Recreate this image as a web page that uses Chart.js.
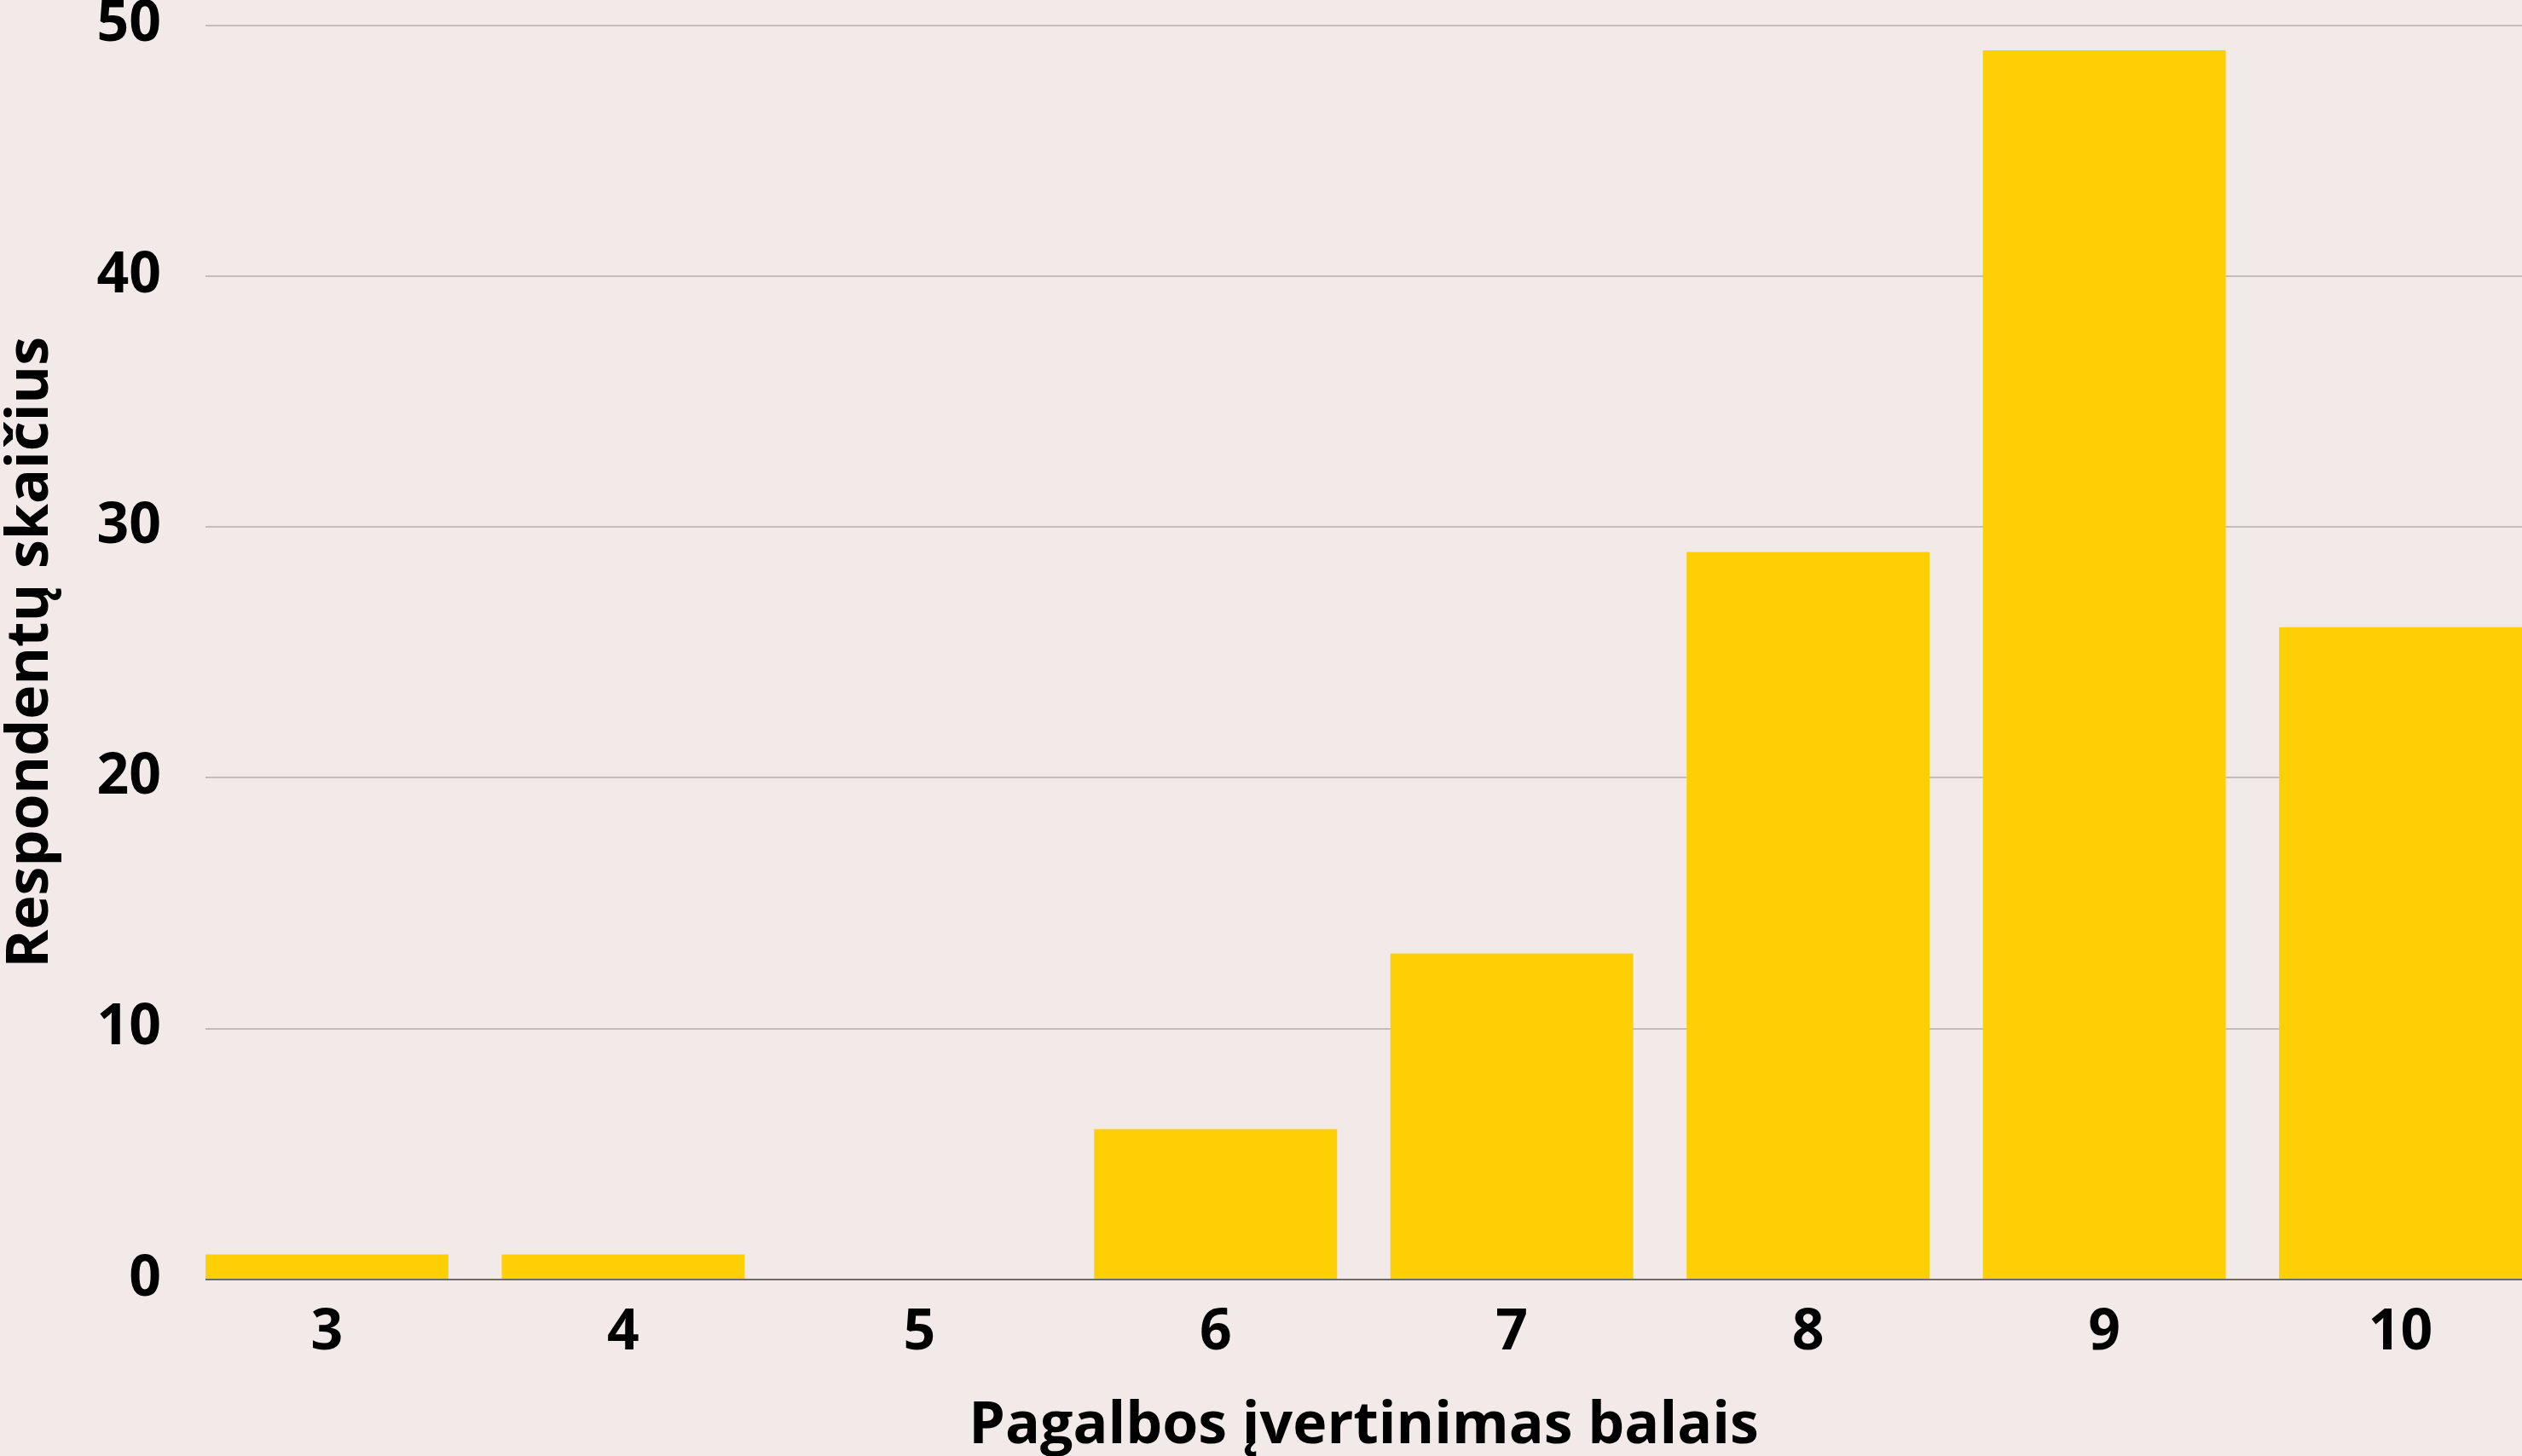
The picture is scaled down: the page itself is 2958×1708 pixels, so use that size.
<!DOCTYPE html>
<html>
<head>
<meta charset="utf-8">
<script src="https://cdn.jsdelivr.net/npm/chart.js@4/dist/chart.umd.min.js"></script>
<style>
  html, body { margin: 0; padding: 0; background: #f2eae8; }
  #wrap { width: 2958px; height: 1708px; }
</style>
</head>
<body>
<div id="wrap"><canvas id="chart"></canvas></div>
<script>
// Chart data
const scores = [3, 4, 5, 6, 7, 8, 9, 10];
const respondents = [1, 1, 0, 6, 13, 29, 49, 26];
const yTicks = [0, 10, 20, 30, 40, 50];

const xTitle = 'Pagalbos įvertinimas balais';
const yTitle = 'Respondentų skaičius';

const barColor = '#ffcf06';
const gridColor = '#c2bdbb';
const zeroColor = '#6e6b6a';

Chart.defaults.font.family = "'Open Sans', sans-serif";
Chart.defaults.font.weight = 'bold';
Chart.defaults.color = '#000';

const canvas = document.getElementById('chart');

new Chart(canvas, {
  type: 'bar',
  data: {
    datasets: [{
      data: scores.map((s, i) => ({ x: s, y: respondents[i] })),
      backgroundColor: barColor,
      borderWidth: 0,
      barPercentage: 0.82,
      categoryPercentage: 1,
    }],
  },
  options: {
    responsive: true,
    maintainAspectRatio: false,
    animation: false,
    layout: { padding: 0 },
    plugins: {
      legend: { display: false },
      tooltip: { enabled: false },
    },
    scales: {
      x: {
        type: 'linear',
        min: 2.59,
        max: 10.41,
        offset: false,
        // one label per score, nothing at the fractional bounds
        afterBuildTicks: (scale) => {
          scale.ticks = scores.map(v => ({ value: v }));
        },
        afterFit: (scale) => { scale.height = 207; },
        ticks: {
          padding: 30,
          autoSkip: false,
          font: { size: 66, lineHeight: 1 },
          callback: (v) => v,
        },
        grid: { display: false, drawTicks: false },
        border: { display: false },
        title: {
          display: true,
          text: xTitle,
          font: { size: 68, lineHeight: 1 },
          padding: { top: 0, bottom: 0 },
        },
      },
      y: {
        min: 0,
        max: 50,
        afterBuildTicks: (scale) => {
          scale.ticks = yTicks.map(v => ({ value: v }));
        },
        afterFit: (scale) => {
          scale.width = 241;
          scale.paddingTop = 29.5; // top gridline sits close to the edge
          scale.paddingBottom = 0;
        },
        ticks: {
          padding: 52,
          font: { size: 66, lineHeight: 1 },
        },
        grid: {
          drawTicks: false,
          lineWidth: 2,
          color: (ctx) => (ctx.tick && ctx.tick.value === 0 ? zeroColor : gridColor),
        },
        border: { display: false },
        title: {
          display: true,
          text: yTitle,
          font: { size: 68, lineHeight: 1 },
          padding: { top: 3, bottom: 0 },
        },
      },
    },
  },
});
</script>
</body>
</html>
